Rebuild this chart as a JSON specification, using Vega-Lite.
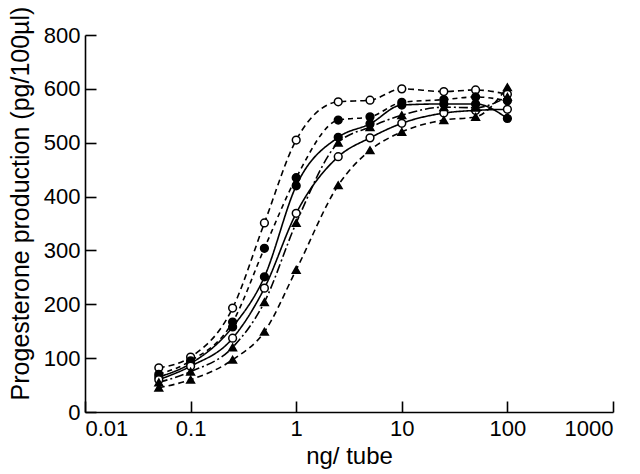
{
  "$schema": "https://vega.github.io/schema/vega-lite/v6.json",
  "width": 528,
  "height": 377,
  "autosize": "none",
  "padding": {"left": 85, "top": 35, "right": 27, "bottom": 62},
  "background": "white",
  "config": {
    "view": {"stroke": null},
    "font": "Liberation Sans",
    "axis": {
      "grid": false,
      "domainColor": "black",
      "domainWidth": 1.6,
      "tickColor": "black",
      "tickWidth": 1.6,
      "labelColor": "black",
      "titleColor": "black",
      "labelFont": "Liberation Sans",
      "titleFont": "Liberation Sans",
      "labelFontSize": 22,
      "titleFontWeight": "normal"
    }
  },
  "data": {
    "values": [
      {"s": "S1", "x": 0.05, "y": 82}, {"s": "S1", "x": 0.1, "y": 102}, {"s": "S1", "x": 0.25, "y": 193}, {"s": "S1", "x": 0.5, "y": 351}, {"s": "S1", "x": 1, "y": 505}, {"s": "S1", "x": 2.5, "y": 576}, {"s": "S1", "x": 5, "y": 579}, {"s": "S1", "x": 10, "y": 600}, {"s": "S1", "x": 25, "y": 595}, {"s": "S1", "x": 50, "y": 598}, {"s": "S1", "x": 100, "y": 590},
      {"s": "S2", "x": 0.05, "y": 70}, {"s": "S2", "x": 0.1, "y": 95}, {"s": "S2", "x": 0.25, "y": 167}, {"s": "S2", "x": 0.5, "y": 304}, {"s": "S2", "x": 1, "y": 435}, {"s": "S2", "x": 2.5, "y": 542}, {"s": "S2", "x": 5, "y": 548}, {"s": "S2", "x": 10, "y": 575}, {"s": "S2", "x": 25, "y": 580}, {"s": "S2", "x": 50, "y": 585}, {"s": "S2", "x": 100, "y": 578},
      {"s": "S3", "x": 0.05, "y": 65}, {"s": "S3", "x": 0.1, "y": 90}, {"s": "S3", "x": 0.25, "y": 158}, {"s": "S3", "x": 0.5, "y": 251}, {"s": "S3", "x": 1, "y": 420}, {"s": "S3", "x": 2.5, "y": 510}, {"s": "S3", "x": 5, "y": 535}, {"s": "S3", "x": 10, "y": 570}, {"s": "S3", "x": 25, "y": 572}, {"s": "S3", "x": 50, "y": 572}, {"s": "S3", "x": 100, "y": 545},
      {"s": "S4", "x": 0.05, "y": 60}, {"s": "S4", "x": 0.1, "y": 85}, {"s": "S4", "x": 0.25, "y": 137}, {"s": "S4", "x": 0.5, "y": 230}, {"s": "S4", "x": 1, "y": 369}, {"s": "S4", "x": 2.5, "y": 474}, {"s": "S4", "x": 5, "y": 509}, {"s": "S4", "x": 10, "y": 536}, {"s": "S4", "x": 25, "y": 555}, {"s": "S4", "x": 50, "y": 560}, {"s": "S4", "x": 100, "y": 562},
      {"s": "S5", "x": 0.05, "y": 55}, {"s": "S5", "x": 0.1, "y": 75}, {"s": "S5", "x": 0.25, "y": 120}, {"s": "S5", "x": 0.5, "y": 204}, {"s": "S5", "x": 1, "y": 351}, {"s": "S5", "x": 2.5, "y": 500}, {"s": "S5", "x": 5, "y": 529}, {"s": "S5", "x": 10, "y": 551}, {"s": "S5", "x": 25, "y": 566}, {"s": "S5", "x": 50, "y": 565}, {"s": "S5", "x": 100, "y": 585},
      {"s": "S6", "x": 0.05, "y": 45}, {"s": "S6", "x": 0.1, "y": 60}, {"s": "S6", "x": 0.25, "y": 97}, {"s": "S6", "x": 0.5, "y": 149}, {"s": "S6", "x": 1, "y": 264}, {"s": "S6", "x": 2.5, "y": 421}, {"s": "S6", "x": 5, "y": 486}, {"s": "S6", "x": 10, "y": 520}, {"s": "S6", "x": 25, "y": 542}, {"s": "S6", "x": 50, "y": 548}, {"s": "S6", "x": 100, "y": 603}
    ]
  },
  "encoding": {
    "x": {
      "field": "x", "type": "quantitative",
      "scale": {"type": "log", "domain": [0.01, 1000]},
      "axis": {"values": [0.01, 0.1, 1, 10, 100, 1000], "format": "~g", "tickSize": -11, "labelPadding": 17, "title": "ng/ tube", "titleFontSize": 24, "titleY": 32}
    },
    "y": {
      "field": "y", "type": "quantitative",
      "scale": {"domain": [0, 700], "nice": false},
      "axis": {"values": [0, 100, 200, 300, 400, 500, 600, 700], "labelExpr": "datum.value == 700 ? '800' : datum.label", "tickSize": -11, "labelPadding": 16, "title": "Progesterone production (pg/100µl)", "titleFontSize": 25, "titleX": -52, "titleY": 168}
    }
  },
  "layer": [
    {
      "mark": {"type": "line", "interpolate": "monotone", "color": "black", "strokeWidth": 1.6},
      "encoding": {
        "detail": {"field": "s"},
        "strokeDash": {
          "field": "s", "type": "nominal",
          "scale": {"domain": ["S1", "S2", "S3", "S4", "S5", "S6"], "range": [[6, 4], [5, 4], [1, 0], [1, 0], [9, 3, 2, 3], [6, 4]]},
          "legend": null
        }
      }
    },
    {
      "mark": {"type": "point", "filled": true, "stroke": "black", "strokeWidth": 1.5, "size": 60, "opacity": 1},
      "encoding": {
        "shape": {
          "field": "s", "type": "nominal",
          "scale": {"domain": ["S1", "S2", "S3", "S4", "S5", "S6"], "range": ["circle", "circle", "circle", "circle", "triangle-up", "triangle-up"]},
          "legend": null
        },
        "fill": {
          "field": "s", "type": "nominal",
          "scale": {"domain": ["S1", "S2", "S3", "S4", "S5", "S6"], "range": ["white", "black", "black", "white", "black", "black"]},
          "legend": null
        }
      }
    }
  ]
}
